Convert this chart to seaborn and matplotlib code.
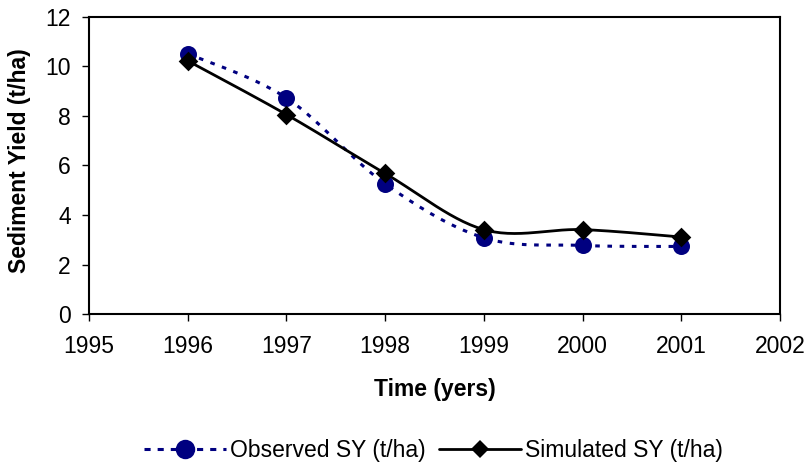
import numpy as np
import pandas as pd
import matplotlib
matplotlib.use("Agg")
import matplotlib.pyplot as plt
import seaborn as sns
from matplotlib.lines import Line2D

years = [1996, 1997, 1998, 1999, 2000, 2001]
observed = [10.52, 8.73, 5.26, 3.08, 2.77, 2.73]
simulated = [10.23, 8.06, 5.68, 3.41, 3.41, 3.11]
obs_label = "Observed SY (t/ha)"
sim_label = "Simulated SY (t/ha)"
xticks = [1995, 1996, 1997, 1998, 1999, 2000, 2001, 2002]
yticks = [0, 2, 4, 6, 8, 10, 12]

sns.set_theme(style="ticks")
plt.rcParams["font.family"] = ["Liberation Sans", "DejaVu Sans"]
plt.rcParams["text.color"] = "black"
plt.rcParams["axes.labelcolor"] = "black"

FS = 16.5


def smooth(x, y, n=30):
    # Excel-style smoothed line (Bezier segments with 1/6 tension)
    x = np.asarray(x, float)
    y = np.asarray(y, float)
    px = np.concatenate([[x[0]], x, [x[-1]]])
    py = np.concatenate([[y[0]], y, [y[-1]]])
    xs, ys = [], []
    t = np.linspace(0, 1, n)
    for i in range(1, len(px) - 2):
        p0 = np.array([px[i], py[i]])
        p3 = np.array([px[i + 1], py[i + 1]])
        c1 = p0 + (np.array([px[i + 1], py[i + 1]]) - np.array([px[i - 1], py[i - 1]])) / 6
        c2 = p3 - (np.array([px[i + 2], py[i + 2]]) - np.array([px[i], py[i]])) / 6
        b = ((1 - t) ** 3)[:, None] * p0 + (3 * (1 - t) ** 2 * t)[:, None] * c1 \
            + (3 * (1 - t) * t ** 2)[:, None] * c2 + (t ** 3)[:, None] * p3
        xs.extend(b[:, 0])
        ys.extend(b[:, 1])
    return np.array(xs), np.array(ys)


fig = plt.figure(figsize=(8.08, 4.63), dpi=100)
ax = fig.add_axes([0.1101, 0.3218, 0.8552, 0.6415])

navy = "#000080"
ox, oy = smooth(years, observed)
sx, sy = smooth(years, simulated)
obs_curve = pd.DataFrame({"x": ox, "y": oy})
sim_curve = pd.DataFrame({"x": sx, "y": sy})
sns.lineplot(data=obs_curve, x="x", y="y", ax=ax, color=navy, lw=2.2,
             linestyle=(0, (1.5, 2.5)), sort=False, legend=False, zorder=2)
sns.lineplot(data=sim_curve, x="x", y="y", ax=ax, color="black", lw=2.0,
             sort=False, legend=False, zorder=3)

pts = pd.DataFrame({"year": years, "obs": observed, "sim": simulated})
sns.scatterplot(data=pts, x="year", y="obs", ax=ax, marker="o", s=150, color=navy,
                edgecolor=navy, linewidth=0, zorder=5, legend=False)
sns.scatterplot(data=pts, x="year", y="sim", ax=ax, marker="D", s=100, color="black",
                edgecolor="black", linewidth=0, zorder=6, legend=False)

ax.set_xlim(1995, 2002)
ax.set_ylim(0, 12)
ax.set_xticks(xticks)
ax.set_yticks(yticks)
ax.tick_params(axis="both", labelsize=FS, length=5, width=1, color="black",
               labelcolor="black")
ax.tick_params(axis="x", pad=10)
ax.tick_params(axis="y", pad=8)
for sp in ax.spines.values():
    sp.set_visible(True)
    sp.set_color("black")
    sp.set_linewidth(1.5)
ax.set_xlabel("Time (yers)", fontsize=FS, fontweight="bold")
ax.set_ylabel("Sediment Yield (t/ha)", fontsize=FS, fontweight="bold")
ax.xaxis.label.set_va("center")
ax.yaxis.label.set_va("center")
ax.xaxis.set_label_coords(0.5, -0.2525)
ax.yaxis.set_label_coords(-0.0999, 0.515)
ax.grid(False)

handles = [Line2D([], [], color=navy, lw=2.2, linestyle=(0, (2.0, 2.3)), marker="o",
                  markersize=14, markeredgewidth=0),
           Line2D([], [], color="black", lw=2.0, marker="D", markersize=9,
                  markeredgewidth=0)]
fig.legend(handles, [obs_label, sim_label], loc="center",
           bbox_to_anchor=(0.5365, 0.028), ncol=2, frameon=False, fontsize=FS,
           handlelength=3.6, handletextpad=0.17, columnspacing=0.57,
           borderpad=0, borderaxespad=0)

fig.savefig("out.png", dpi=100)
